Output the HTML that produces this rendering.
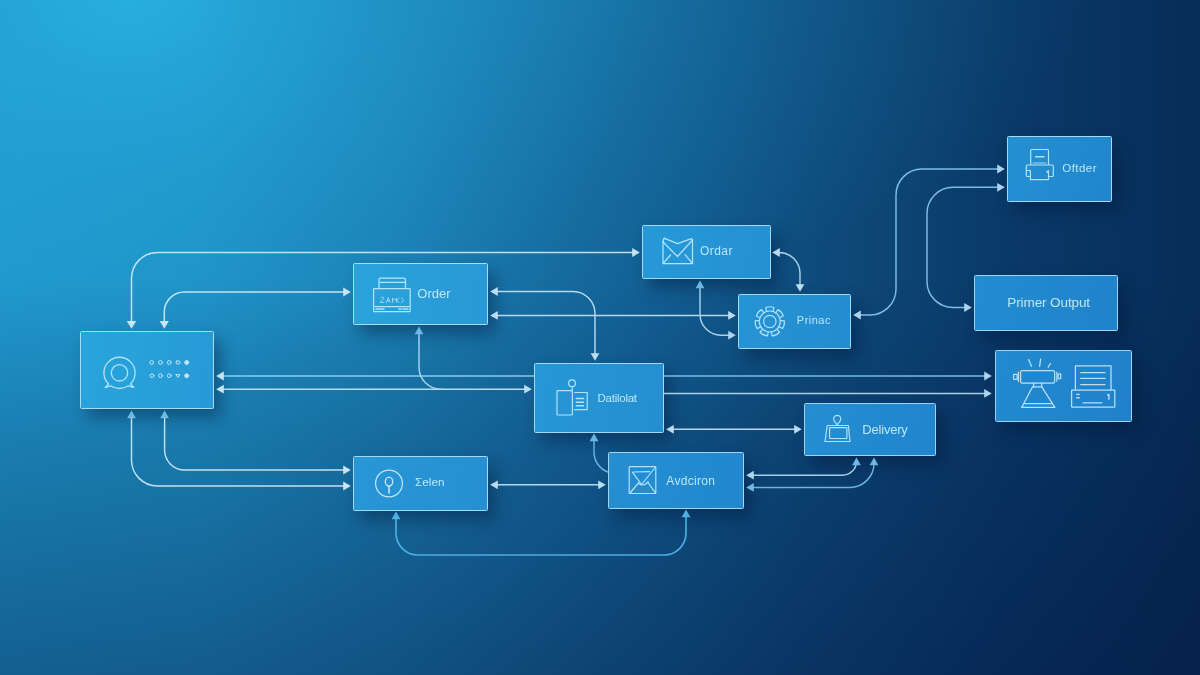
<!DOCTYPE html>
<html><head><meta charset="utf-8">
<style>
html,body{margin:0;padding:0;}
body{width:1200px;height:675px;overflow:hidden;position:relative;font-family:"Liberation Sans",sans-serif;
background:
 linear-gradient(to bottom,rgba(2,17,60,0) 0%,rgba(2,17,60,0) 41%,rgba(2,17,60,0.20) 66%,rgba(2,17,60,0.42) 100%),
 radial-gradient(ellipse 550px 300px at 550px -20px,rgba(44,190,236,0.20) 0%,rgba(44,190,236,0.10) 50%,rgba(44,190,236,0) 100%),
 radial-gradient(ellipse 520px 400px at 130px -10px,rgba(44,190,236,0.62) 0%,rgba(44,190,236,0.36) 22%,rgba(44,190,236,0.17) 48%,rgba(44,190,236,0.06) 75%,rgba(44,190,236,0) 100%),
 linear-gradient(to right,#2098cd 0%,#1f92c7 16.7%,#1b80b4 33.3%,#14669b 50%,#0e4d7e 66.7%,#0a3a69 83.3%,#072d58 100%);
}
.b{position:absolute;box-sizing:border-box;border:1.8px solid #9fd3f2;border-radius:1.5px;
box-shadow:7px 9px 16px rgba(2,22,55,0.40);}
.t{position:absolute;color:#c8eefb;opacity:0.92;white-space:nowrap;line-height:1;}
svg{position:absolute;left:0;top:0;}
</style></head><body>
<div class="b" style="left:80px;top:331px;width:134px;height:78px;border-color:#a9dbf6;background:linear-gradient(100deg,#29a4db,#279ad7)"></div>
<div class="b" style="left:353px;top:263px;width:135px;height:62px;border-color:#a9dbf6;background:linear-gradient(100deg,#2aa3db,#2899d6)"></div>
<div class="b" style="left:352.5px;top:456px;width:135.5px;height:54.8px;border-color:#a4d8f5;background:linear-gradient(100deg,#2897d6,#258fd2)"></div>
<div class="b" style="left:534px;top:363px;width:130px;height:70px;border-color:#a4d8f5;background:linear-gradient(100deg,#2797d6,#248ed1)"></div>
<div class="b" style="left:608px;top:452.3px;width:136px;height:56.5px;border-color:#a0d5f4;background:linear-gradient(100deg,#258fd2,#2287ce)"></div>
<div class="b" style="left:642px;top:225px;width:128.7px;height:54px;border-color:#a4d8f5;background:linear-gradient(100deg,#2799d7,#2490d2)"></div>
<div class="b" style="left:738px;top:294px;width:113px;height:55px;border-color:#a4d8f5;background:linear-gradient(100deg,#2594d4,#238cd0)"></div>
<div class="b" style="left:804px;top:403px;width:132px;height:53px;border-color:#9dd3f3;background:linear-gradient(100deg,#248ed1,#2185cd)"></div>
<div class="b" style="left:1007px;top:136px;width:105px;height:66px;border-color:#a4d8f5;background:linear-gradient(100deg,#2490d2,#2186cd)"></div>
<div class="b" style="left:974px;top:275px;width:144px;height:56px;border-color:#9dd3f3;background:linear-gradient(100deg,#238cd0,#2083cb)"></div>
<div class="b" style="left:994.7px;top:349.6px;width:137px;height:72px;border-color:#9dd3f3;background:linear-gradient(100deg,#228acf,#2081ca)"></div>
<svg width="1200" height="675" viewBox="0 0 1200 675" fill="none" stroke-linecap="round" stroke-linejoin="round">
<g id="lines" opacity="0.92"><path d="M131.5 322.0 V278.5 a26 26 0 0 1 26 -26 H633.1999999999999" stroke="#cfeaf8" stroke-width="1.5"/>
<path d="M164.3 322.0 V312 a20 20 0 0 1 20 -20 H344.2" stroke="#cfeaf8" stroke-width="1.5"/>
<path d="M222.79999999999998 376 H534" stroke="#93d2f1" stroke-width="1.7"/>
<path d="M222.79999999999998 389.2 H525.1999999999999" stroke="#c4e4f6" stroke-width="1.45"/>
<path d="M419 333.2 V367.2 a22 22 0 0 0 22 22" stroke="#b4dcf3" stroke-width="1.45"/>
<path d="M131.5 417.2 V460 a26 26 0 0 0 26 26 H344.2" stroke="#cfeaf8" stroke-width="1.45"/>
<path d="M164.6 417.2 V450 a20 20 0 0 0 20 20 H344.2" stroke="#cfeaf8" stroke-width="1.45"/>
<path d="M496.8 291.5 H573 a22 22 0 0 1 22 22 V354.2" stroke="#c4e4f6" stroke-width="1.45"/>
<path d="M496.8 315.4 H729.1999999999999" stroke="#c4e4f6" stroke-width="1.45"/>
<path d="M700 287.2 V314.2 a21 21 0 0 0 21 21 H729.1999999999999" stroke="#b4dcf3" stroke-width="1.45"/>
<path d="M778.8000000000001 252.5 a21 21 0 0 1 21.199999999999932 21 V285.2" stroke="#b4dcf3" stroke-width="1.45"/>
<path d="M859.8000000000001 315 H870 a26 26 0 0 0 26 -26 V195 a26 26 0 0 1 26 -26 H998.1999999999999" stroke="#84c9ef" stroke-width="1.45"/>
<path d="M998.1999999999999 187.3 H953 a26 26 0 0 0 -26 26 V281.5 a26 26 0 0 0 26 26 H965.1999999999999" stroke="#84c9ef" stroke-width="1.45"/>
<path d="M664 376 H985.1999999999999" stroke="#7fc6ed" stroke-width="1.7"/>
<path d="M664 393.4 H985.1999999999999" stroke="#b4dcf3" stroke-width="1.45"/>
<path d="M672.8000000000001 429.3 H795.1999999999999" stroke="#c4e4f6" stroke-width="1.45"/>
<path d="M594 440.2 V452 a21 21 0 0 0 14 20" stroke="#70bdea" stroke-width="1.45"/>
<path d="M496.8 484.8 H599.1999999999999" stroke="#c4e4f6" stroke-width="1.45"/>
<path d="M752.8000000000001 475.2 H842.5 a14 14 0 0 0 14 -14 V464.2" stroke="#b4dcf3" stroke-width="1.45"/>
<path d="M752.8000000000001 487.4 H850 a24 24 0 0 0 24 -24 V464.2" stroke="#74bfea" stroke-width="1.45"/>
<path d="M396 518.2 V533 a22 22 0 0 0 22 22 H664 a22 22 0 0 0 22 -22 V516.1999999999999" stroke="#4fb6ea" stroke-width="1.7"/></g>
<g id="arrows" stroke="none" opacity="0.95"><path d="M131.5 328.8 l-4.7 -7.8 h9.4z" fill="#cfeaf8"/>
<path d="M639.8 252.5 l-7.6 -4.4 v8.8z" fill="#cfeaf8"/>
<path d="M164.3 328.8 l-4.6 -7.8 h9.2z" fill="#cfeaf8"/>
<path d="M350.8 292.0 l-7.6 -4.4 v8.8z" fill="#cfeaf8"/>
<path d="M216.2 376.0 l7.6 -4.4 v8.8z" fill="#cfeaf8"/>
<path d="M216.2 389.2 l7.6 -4.4 v8.8z" fill="#cfeaf8"/>
<path d="M531.8 389.2 l-7.6 -4.4 v8.8z" fill="#c4e4f6"/>
<path d="M419.0 326.6 l-4.4 7.6 h8.8z" fill="#70bdea"/>
<path d="M131.5 410.6 l-4.4 7.6 h8.8z" fill="#74bfea"/>
<path d="M350.8 486.0 l-7.6 -4.4 v8.8z" fill="#cfeaf8"/>
<path d="M164.6 410.6 l-4.4 7.6 h8.8z" fill="#74bfea"/>
<path d="M350.8 470.0 l-7.6 -4.4 v8.8z" fill="#cfeaf8"/>
<path d="M490.2 291.5 l7.6 -4.4 v8.8z" fill="#c4e4f6"/>
<path d="M595.0 360.8 l-4.4 -7.6 h8.8z" fill="#c4e4f6"/>
<path d="M490.2 315.4 l7.6 -4.4 v8.8z" fill="#c4e4f6"/>
<path d="M735.8 315.4 l-7.6 -4.4 v8.8z" fill="#c4e4f6"/>
<path d="M700.0 280.6 l-4.4 7.6 h8.8z" fill="#70bdea"/>
<path d="M735.8 335.2 l-7.6 -4.4 v8.8z" fill="#b4dcf3"/>
<path d="M772.2 252.5 l7.6 -4.4 v8.8z" fill="#c4e4f6"/>
<path d="M800.0 291.8 l-4.4 -7.6 h8.8z" fill="#c4e4f6"/>
<path d="M853.2 315.0 l7.6 -4.4 v8.8z" fill="#b4dcf3"/>
<path d="M1004.8 169.0 l-7.6 -4.4 v8.8z" fill="#b4dcf3"/>
<path d="M1004.8 187.3 l-7.6 -4.4 v8.8z" fill="#b4dcf3"/>
<path d="M971.8 307.5 l-7.6 -4.4 v8.8z" fill="#b4dcf3"/>
<path d="M991.8 376.0 l-7.6 -4.4 v8.8z" fill="#b4dcf3"/>
<path d="M991.8 393.4 l-7.6 -4.4 v8.8z" fill="#b4dcf3"/>
<path d="M666.2 429.3 l7.6 -4.4 v8.8z" fill="#c4e4f6"/>
<path d="M801.8 429.3 l-7.6 -4.4 v8.8z" fill="#c4e4f6"/>
<path d="M594.0 433.6 l-4.4 7.6 h8.8z" fill="#70bdea"/>
<path d="M490.2 484.8 l7.6 -4.4 v8.8z" fill="#c4e4f6"/>
<path d="M605.8 484.8 l-7.6 -4.4 v8.8z" fill="#c4e4f6"/>
<path d="M746.2 475.2 l7.6 -4.4 v8.8z" fill="#b4dcf3"/>
<path d="M856.5 457.6 l-4.4 7.6 h8.8z" fill="#70bdea"/>
<path d="M746.2 487.4 l7.6 -4.4 v8.8z" fill="#74bfea"/>
<path d="M874.0 457.6 l-4.4 7.6 h8.8z" fill="#70bdea"/>
<path d="M396.0 511.6 l-4.4 7.6 h8.8z" fill="#4fb6ea"/>
<path d="M686.0 509.6 l-4.4 7.6 h8.8z" fill="#4fb6ea"/></g>
<g id="icons" stroke="#c6e9fa" stroke-width="1.25" opacity="0.9">
<!-- chat bubble -->
<g stroke="#c3ecfb" stroke-width="1.3">
<circle cx="119.5" cy="372.8" r="8.2"/>
<path d="M108.6 384 A15.6 15.6 0 1 1 130.4 384 L133.8 387.3 L128.3 385.8 A15.6 15.6 0 0 1 110.7 385.8 L105.2 387.6 Z"/>
</g>
<g stroke="#cfeefb" stroke-width="1">
<circle cx="151.7" cy="362.5" r="1.9"/><circle cx="160.5" cy="362.5" r="1.9"/><circle cx="169.3" cy="362.5" r="1.9"/><rect x="176.2" y="361" width="3.6" height="3" rx="0.8"/><circle cx="186.7" cy="362.5" r="2" fill="#cfeefb"/>
<circle cx="152" cy="375.7" r="1.9"/><circle cx="160.5" cy="375.7" r="1.9"/><circle cx="169.3" cy="375.7" r="1.9"/><path d="M176.2 374.6 h3.8 l-1.9 2.6z"/><circle cx="186.7" cy="375.7" r="2" fill="#cfeefb"/>
</g>
<!-- order printer -->
<g stroke="#c3ecfb" stroke-width="1.25">
<path d="M379 288.5 V279.5 a1.5 1.5 0 0 1 1.5 -1.5 H403.5 a2 2 0 0 1 2 2 V288.5 M379 282.3 H405.5"/>
<rect x="373.6" y="288.5" width="36.6" height="23" rx="0.8"/>
<path d="M375 306.6 H409"/>
<path d="M376 309 h8 M399 309 h2.5 M403 309 h6" stroke-width="1.6" stroke-dasharray="2 1"/>
<path d="M380.5 302.5 h3.5 m-3.5 0 c0 -3 3.5 -2 3.5 -4.5 c-1 -1.2 -3 -1 -3.5 0 M386.5 302.5 l1.8 -5 l1.8 5 m-3 -1.8 h2.4 M392.5 302.5 v-4.5 l2 2.5 l2 -2.5 v4.5 M399 298 c-2 0 -2 4.5 0 4.5 M401.5 302.5 c2.5 -1 2.5 -3 0 -4.5" stroke-width="0.9" opacity="0.85"/>
</g>
<!-- mail (Ordar) -->
<g stroke="#c3ecfb" stroke-width="1.25">
<path d="M663 242 V263.5 H692.5 V240"/>
<path d="M663 242 L677.5 256.5 L692.5 240"/>
<path d="M664 238.2 L677.5 243.6 L691.5 238.6 L692.5 240 M664 238.2 L663 242"/>
<path d="M663.4 263 L670.6 255 M692.1 263 L685 254.6"/>
</g>
<!-- gear -->
<g stroke="#bfe8fa" stroke-width="1.2">
<circle cx="769.8" cy="321.5" r="6.2"/>
<circle cx="769.8" cy="321.5" r="10.5"/>
<path id="tooth" d="M766.7 311.5 l-1 -3.9 q4.1 -1.7 8.2 0 l-1 3.9"/>
<use href="#tooth" transform="rotate(51.4 769.8 321.5)"/>
<use href="#tooth" transform="rotate(102.8 769.8 321.5)"/>
<use href="#tooth" transform="rotate(154.3 769.8 321.5)"/>
<use href="#tooth" transform="rotate(205.7 769.8 321.5)"/>
<use href="#tooth" transform="rotate(257.1 769.8 321.5)"/>
<use href="#tooth" transform="rotate(308.6 769.8 321.5)"/>
</g>
<!-- printer TR -->
<g stroke="#c3ecfb" stroke-width="1.2">
<path d="M1030.7 164.5 V150.5 a1 1 0 0 1 1 -1 H1047.5 a1 1 0 0 1 1 1 V164.5"/>
<path d="M1035.6 156.8 H1044" stroke-width="1.5"/>
<path d="M1033 163 H1046" stroke-width="0.9"/>
<path d="M1030.4 176.5 H1027.3 a1 1 0 0 1 -1 -1 V166 a1 1 0 0 1 1 -1 H1052.3 a1 1 0 0 1 1 1 V175.5 a1 1 0 0 1 -1 1 H1048.5"/>
<path d="M1030.4 170.5 V179.6 H1048.5 V170.5 M1027 170.5 H1030.4"/>
<circle cx="1047.3" cy="171.8" r="0.5"/>
</g>
<!-- datilolat -->
<g stroke="#c3ecfb" stroke-width="1.2">
<rect x="557" y="390.6" width="15.4" height="24.4" rx="0.8"/>
<circle cx="572" cy="383.2" r="3.4"/>
<path d="M572.2 386.7 V391"/>
<path d="M574.6 392.5 H587.2 V409.6 H574.6"/>
<path d="M576.2 398.5 H583.6 M576.2 402.2 H583.6 M576.2 405.8 H583.6" stroke-width="1.4"/>
</g>
<!-- delivery -->
<g stroke="#c3ecfb" stroke-width="1.2">
<path d="M837.2 424.8 C835.5 422.5 833.6 421 833.6 418.9 a3.6 3.6 0 0 1 7.2 0 C840.8 421 838.9 422.5 837.2 424.8z"/>
<path d="M827.2 425.5 H848.4 L850 441.5 H825 Z"/>
<rect x="829.6" y="427.6" width="17.3" height="10.9" rx="0.5"/>
</g>
<!-- avdciron mail -->
<g stroke="#c3ecfb" stroke-width="1.2">
<rect x="629.2" y="466.6" width="26.6" height="26.9" rx="0.6"/>
<path d="M655.5 467 L642 484 M632.6 472.4 L641.6 484.6 M633 472 L649.5 471.6"/>
<path d="M630 493 L638.5 483 M655.2 492.6 L647.6 482"/>
<path d="M638.5 483.4 Q643.5 487 648.3 482"/>
</g>
<!-- eelen -->
<g stroke="#d6f1fc" stroke-width="1.35">
<circle cx="389" cy="483.5" r="13.4" stroke-width="1.2"/>
<ellipse cx="389" cy="481.6" rx="3.7" ry="4.5"/>
<path d="M389 486.2 V493" stroke-width="1.6"/>
</g>
<!-- right icon box -->
<g stroke="#cdeaf9" stroke-width="1.25">
<path d="M1028.7 359.7 L1031.4 366.3 M1040.6 359.2 L1039.6 366.3 M1050.4 363.5 L1048.2 367.3"/>
<rect x="1020.6" y="370.6" width="34" height="12.4" rx="1.6"/>
<path d="M1018.4 372.2 V381.4 M1056.9 372 V381.2"/>
<rect x="1013.6" y="374.4" width="3.6" height="4.9" rx="0.6"/>
<rect x="1058.2" y="373.8" width="2.6" height="4.9" rx="0.6"/>
<path d="M1033.6 383.2 V386.8 M1041.7 383.2 V386.8"/>
<path d="M1032.6 386.8 H1041.8 L1054.8 407.4 H1021.7 Z"/>
<path d="M1024.2 403.6 H1052.2"/>
<path d="M1075.4 389.6 V365.8 H1111 V389.6"/>
<path d="M1080.7 372.5 H1105 M1080.7 378.4 H1105 M1080.7 384.5 H1105"/>
<rect x="1071.6" y="390" width="43.2" height="17" rx="0.6"/>
<path d="M1083 402.9 H1101.8"/>
<path d="M1076.6 394.4 h2.6 M1076.6 397.8 h2.6 M1108.9 394.4 V399.3 M1107.6 395 l1.3 -0.6" stroke-width="1.4"/>
</g>
</g>

</svg>
<div class="t" style="left:417.3px;top:287.2px;font-size:13px;letter-spacing:0">Order</div>
<div class="t" style="left:700px;top:245.4px;font-size:12px;letter-spacing:0.45px">Ordar</div>
<div class="t" style="left:796.8px;top:315px;font-size:11px;letter-spacing:0.5px">Prinac</div>
<div class="t" style="left:1062.3px;top:162.8px;font-size:11.5px;letter-spacing:0.45px">Oftder</div>
<div class="t" style="left:1007.3px;top:295.7px;font-size:13.5px;letter-spacing:-0.1px">Primer Output</div>
<div class="t" style="left:597.5px;top:392.6px;font-size:11.5px;letter-spacing:-0.25px">Datilolat</div>
<div class="t" style="left:862.3px;top:422.7px;font-size:13px;letter-spacing:-0.2px">Delivery</div>
<div class="t" style="left:666.3px;top:475px;font-size:12px;letter-spacing:0.3px">Avdciron</div>
<div class="t" style="left:415px;top:477px;font-size:11.8px;letter-spacing:0">&#931;elen</div>

</body></html>
